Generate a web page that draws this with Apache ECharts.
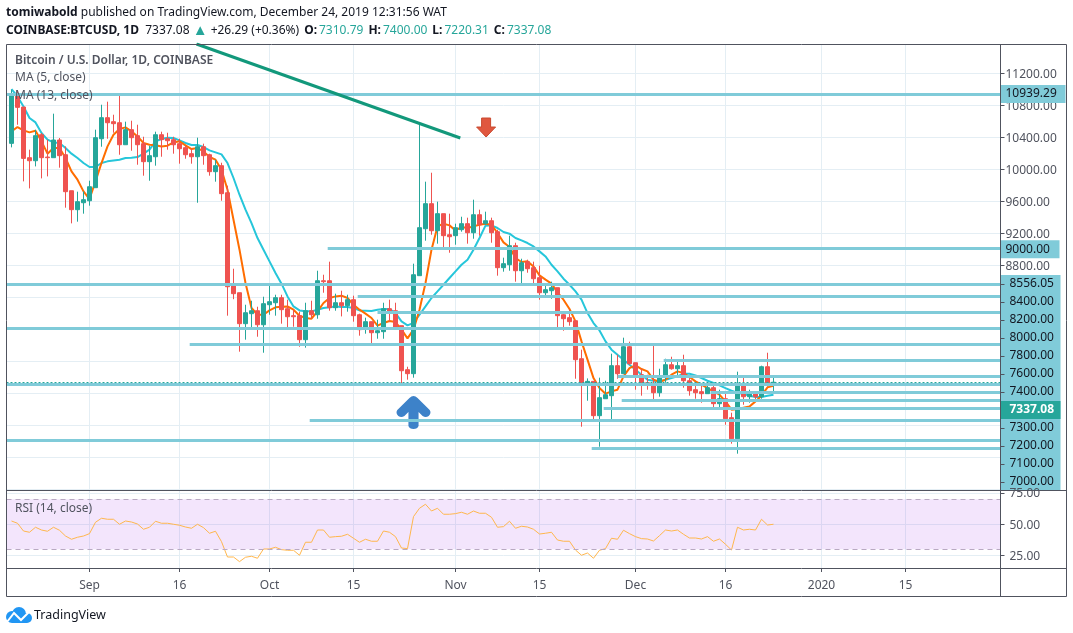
<!DOCTYPE html>
<html>
<head>
<meta charset="utf-8">
<title>BTCUSD</title>
<style>
  html, body { margin: 0; padding: 0; background: #fff; }
  #chart { width: 1073px; height: 633px; }
</style>
<script src="https://cdn.jsdelivr.net/npm/echarts@6/dist/echarts.min.js"></script>
</head>
<body>
<div id="chart"></div>
<script>
// day 0 is 1 Sep 2019, first candle is 19 Aug
const firstDay = -13
const opens = [10323,10940,10777,10144,10106,10431,10152,10144,10365,10181,9731,9494,9581,9606,9769,10381,10644,10594,10581,10306,10494,10419,10319,10094,10156,10431,10381,10369,10319,10269,10194,10156,10281,10181,9969,10044,9706,8544,8456,8069,8194,8231,8056,8306,8331,8394,8256,8169,8169,7869,8231,8181,8606,8606,8269,
  8331,8294,8369,8181,8006,8094,7956,7969,8256,8231,8044,7494,7444,8669,9256,9569,9231,9444,9181,9169,9244,9319,9206,9431,9319,9356,9219,8769,8806,9044,8731,8844,8769,8644,8456,8481,8519,8181,8144,8106,7631,
  7298,7348,6919,7131,7169,7544,7444,7781,7581,7431,7331,7319,7206,7406,7556,7506,7544,7356,7244,7219,7194,7269,7069,7131,6894,6631,7306,7156,7206,7156,7531,7310.79]
const closes = [10940,10773,10135,10106,10419,10144,10144,10365,10169,9719,9494,9594,9619,9781,10394,10644,10581,10569,10306,10494,10394,10306,10094,10169,10431,10369,10356,10306,10256,10181,10156,10281,10169,9969,10044,9694,8531,8444,8069,8206,8231,8056,8319,8344,8394,8244,8156,8156,7869,8231,8181,8606,8594,8269,8331,
  8294,8369,8169,7994,8094,7956,7981,8256,8219,8019,7481,7444,8681,9269,9569,9231,9444,9169,9156,9269,9319,9206,9431,9306,9356,9206,8769,8819,9044,8731,8831,8756,8631,8456,8494,8519,8169,8131,8094,7619,7298,
  7348,6919,7144,7181,7544,7444,7781,7569,7406,7319,7306,7206,7419,7556,7506,7544,7356,7231,7206,7194,7269,7069,7131,6881,6631,7306,7156,7206,7156,7531,7319,7337.08]
const highs = [10994,10990,10777,10244,10494,10452,10369,10694,10390,10285,9731,9719,9723,9856,10494,10806,10844,10681,10944,10594,10606,10556,10406,10294,10469,10469,10456,10406,10381,10294,10256,10394,10319,10194,10119,10081,9794,8756,8456,8306,8356,8281,8406,8556,8431,8431,8369,8244,8219,8331,8356,8731,8681,8844,8444,
  8481,8431,8419,8194,8144,8094,8119,8331,8369,8331,8044,7531,8819,10556,9844,9956,9594,9444,9444,9319,9406,9394,9619,9494,9469,9394,9244,8894,9169,9081,8881,8869,8844,8794,8544,8594,8519,8219,8244,8106,7744,
  7385,7348,7394,7356,7694,7681,7894,7844,7581,7506,7431,7794,7506,7631,7656,7606,7681,7419,7306,7319,7319,7294,7244,7194,6956,7469,7394,7244,7206,7544,7706,7400]
const lows = [10273,10556,9848,9760,10035,9885,9910,10144,10019,9519,9323,9344,9444,9544,9769,10281,10381,10456,10181,10306,10231,10056,9919,9856,10044,10156,10244,10194,10069,10131,10069,9581,10056,9919,9844,9606,8169,8375,7719,7869,8019,7906,7706,8181,8169,8069,8006,8031,7781,7769,8131,8131,8456,8231,8231,
  8160,8219,8094,7919,7944,7819,7881,7881,8094,7994,7306,7369,7394,8669,9106,9181,9069,8994,8956,9056,9219,9069,9131,9169,9306,9081,8669,8719,8731,8594,8556,8706,8556,8369,8406,8381,8019,7981,8044,7381,6781,
  7106,6869,6531,7131,6856,7381,7444,7556,7244,7169,7244,7094,7156,7331,7494,7394,7269,7169,7131,7081,7194,7019,7019,6806,6569,6444,7056,7081,7106,7131,7281,7220.31]
const ma5 = [10473,10527,10485,10460,10481,10348,10194,10265,10265,10140,9973,9869,9723,9627,9848,10077,10285,10431,10502,10523,10473,10410,10327,10306,10298,10285,10294,10335,10348,10298,10252,10265,10223,10152,10119,9994,9744,9369,8994,8577,8265,8181,8181,8235,8273,8281,8285,8244,8169,8140,8131,8223,8327,8390,8410,
  8419,8390,8306,8244,8194,8140,8044,8077,8102,8090,7994,7885,7994,8244,8577,8994,9285,9319,9298,9235,9277,9265,9285,9306,9319,9306,9202,9085,9027,8890,8840,8848,8785,8673,8619,8569,8460,8369,8252,8098,7848,
  7619,7389,7264,7194,7223,7244,7410,7514,7548,7502,7473,7369,7344,7369,7431,7473,7452,7402,7348,7306,7264,7223,7181,7098,6994,7002,7019,7035,7098,7169,7273,7294]
const ma13 = [11002,10910,10785,10640,10585,10452,10369,10335,10327,10265,10194,10140,10077,10027,10027,10077,10098,10110,10119,10140,10144,10152,10194,10244,10348,10377,10394,10390,10360,10327,10302,10302,10277,10235,10210,10185,10077,9890,9681,9494,9327,9139,8994,8848,8702,8569,8410,8285,8235,8223,8223,8244,8265,8273,8285,
  8277,8277,8265,8235,8231,8227,8244,8252,8252,8202,8098,8048,8077,8181,8285,8390,8473,8556,8640,8723,8806,8869,8994,9140,9294,9298,9265,9215,9194,9140,9110,9077,9035,8973,8910,8806,8723,8631,8556,8473,8369,
  8202,8077,7985,7848,7744,7681,7619,7556,7494,7431,7369,7356,7348,7369,7390,7410,7444,7444,7423,7390,7356,7327,7298,7264,7231,7202,7194,7169,7152,7152,7169,7181]
const rsi = [52.6,50.8,44.6,43.6,47.6,45.4,44.4,47.6,45.2,40.6,38,39.6,40.6,42.5,51.6,54.8,54,54,50,52.6,51.8,50.2,46,47.6,52.4,50.8,50.8,50,49.2,47.8,46.8,50,47.3,42.8,44.4,36.1,23.8,23.8,20.1,23.6,24.4,22.8,30.2,30.2,31.6,29.7,29.2,29.2,25.2,35.6,35.6,45.4,45.4,39.6,40.1,40.4,42,38.8,35.6,38,36.4,36.4,44.6,43.6,40.1,31,30.5,56.1,62.8,
  66,60.6,62.8,58,58,58.5,59.6,58,60.6,58.8,58.8,55.6,47.6,48.1,52.4,46.8,48.4,47.8,46,42.2,42.8,43.6,37.4,36.4,36.4,29.4,25.2,27,22.8,29.2,30.5,38.8,38,45.2,42.5,40.1,38.5,38.2,36.6,40.9,45.4,44.6,45.4,42,39,39,38.2,40.1,36.4,38.2,34,29.4,47.6,45.4,46,45.4,54,49.4,50]

// drawn support / resistance levels, startDay null means from the left edge
const levelPrices = [10939.29,9010,8556.05,8411,8211,8011,7811,7611,7411,7311,7211,7111,7011,6861,6611,6511]
const levelStarts = [null,39.7,null,44.7,48,null,16.7,95.7,88,null,103.5,88.7,85.7,36.7,null,83.7]
const trendDays = [17.83,61.8]
const trendPrices = [11565,10390]
const upArrowAt = [54,6959]
const downArrowAt = [66.1,10521]
const lastPrice = 7337.08

const xTickDays = [0,15,30,44,61,75,91,106,122,136]
const xTickLabels = ['Sep','16','Oct','15','Nov','15','Dec','16','2020','15']
const priceTicks = [11200,10800,10400,10000,9600,9200,8800,9000,10939.29]
const taggedPrices = [10939.29,9000]
// these labels were pushed down the scale to stop them overlapping
const stackedLabels = ['8556.05','8400.00','8200.00','8000.00','7800.00','7600.00','7400.00','7337.08','7300.00','7200.00','7100.00','7000.00']
const rsiTicks = [75,50,25]

const font = '"Noto Sans", sans-serif'
const axisColor = '#50535e'
const gridColor = '#e4eef4'
const levelColor = '#80cbd9'
const upColor = '#26a69a'
const downColor = '#ef5350'
// 6px a day, picked so candles land on whole pixels
const xMin = -13.8333
const xMax = 151.8334

let candles = opens.map((o, i) => [firstDay + i, o, closes[i], lows[i], highs[i]])
let withDay = arr => arr.map((v, i) => [firstDay + i, v])

let levelLines = levelPrices.map((p, i) => [
  { coord: [levelStarts[i] === null ? xMin : levelStarts[i], p] },
  { coord: [xMax, p] }
])

let myCharts = echarts.init(document.getElementById('chart'), null, { renderer: 'canvas' })
let options = {
  animation: false,
  backgroundColor: '#fff',
  textStyle: { fontFamily: font },
  grid: [
    { left: 6.5, width: 994, top: 44, height: 445.2 },
    { left: 6.5, width: 994, top: 491, height: 77 },
    { left: 1000.5, width: 60, top: 275, height: 216, show: true, backgroundColor: levelColor, borderWidth: 0 }
  ],
  xAxis: [
    {
      type: 'value', gridIndex: 0, min: xMin, max: xMax,
      axisLine: { show: false, onZero: false }, axisLabel: { show: false },
      axisTick: { show: false, customValues: xTickDays },
      splitLine: { show: true, lineStyle: { color: gridColor } }
    },
    {
      type: 'value', gridIndex: 1, min: xMin, max: xMax,
      axisLine: { show: false, onZero: false },
      axisTick: { show: true, length: 4, customValues: xTickDays, lineStyle: { color: axisColor } },
      axisLabel: {
        customValues: xTickDays, margin: 12, fontSize: 12, fontFamily: font, color: axisColor,
        formatter: v => xTickLabels[xTickDays.indexOf(v)] || '',
        showMinLabel: true, showMaxLabel: true
      },
      splitLine: { show: true, lineStyle: { color: gridColor } }
    },
    { type: 'value', gridIndex: 2, show: false, min: 0, max: 1 }
  ],
  yAxis: [
    {
      type: 'value', gridIndex: 0, min: 6000, max: 11565, interval: 400, position: 'right',
      axisLine: { show: false, onZero: false }, axisTick: { show: false }, axisLabel: { show: false },
      splitLine: { show: true, lineStyle: { color: gridColor } }
    },
    {
      type: 'value', gridIndex: 0, min: 6000, max: 11565, position: 'right',
      axisLine: { show: false, onZero: false },
      axisTick: { show: true, length: 4, customValues: priceTicks, lineStyle: { color: axisColor } },
      splitLine: { show: false },
      axisLabel: {
        customValues: priceTicks, margin: 0, fontFamily: font,
        formatter: v => {
          if (taggedPrices.indexOf(v) >= 0) return '{' + (v > 10000 ? 'wide' : 'tag') + '|' + v.toFixed(2) + '}'
          return '{plain|' + v.toFixed(2) + '}'
        },
        rich: {
          plain: { fontSize: 12, color: axisColor, fontFamily: font, padding: [2, 0, 0, 5] },
          tag: { fontSize: 12, color: '#131722', fontFamily: font, backgroundColor: levelColor, width: 54, height: 18, padding: [0, 0, 0, 5] },
          wide: { fontSize: 12, color: '#131722', fontFamily: font, backgroundColor: levelColor, width: 60, height: 18, padding: [0, 0, 0, 5] }
        }
      }
    },
    {
      type: 'value', gridIndex: 1, min: 15, max: 76.6, position: 'right',
      axisLine: { show: false, onZero: false },
      axisTick: { show: true, length: 4, customValues: rsiTicks, lineStyle: { color: axisColor } },
      axisLabel: {
        customValues: rsiTicks, margin: 0, fontFamily: font,
        formatter: v => '{plain|' + v.toFixed(2) + '}',
        rich: { plain: { fontSize: 12, color: axisColor, fontFamily: font, padding: [2, 0, 0, 9] } }
      },
      splitLine: { show: true, lineStyle: { color: gridColor } }
    },
    {
      type: 'category', gridIndex: 2, inverse: true, data: stackedLabels, position: 'left',
      axisLine: { show: false, onZero: false },
      axisTick: { show: true, inside: true, length: 4, alignWithLabel: true, lineStyle: { color: axisColor } },
      axisLabel: {
        inside: true, margin: 0, interval: 0, fontFamily: font,
        formatter: v => v === '7337.08' ? '{now|' + v + '}' : '{tag|' + v + '}',
        rich: {
          tag: { fontSize: 12, color: '#131722', fontFamily: font, padding: [0, 0, 0, 9] },
          now: { fontSize: 12, fontWeight: 'bold', color: '#fff', fontFamily: font, backgroundColor: upColor, width: 51, height: 18, padding: [0, 0, 0, 9] }
        }
      }
    }
  ],
  series: [
    {
      name: 'arrows', type: 'scatter', xAxisIndex: 0, yAxisIndex: 0, z: 1, silent: true,
      data: [
        {
          value: upArrowAt, symbolSize: [34, 33],
          symbol: 'path://M17 0 Q19 0 21 2 L33 14 Q35 17 32 20 Q29 22 26 20 L22 16 L22 30 Q21 33 17 33 Q13 33 12 30 L12 16 L8 20 Q5 22 2 20 Q-1 17 1 14 L13 2 Q15 0 17 0 Z',
          itemStyle: { color: '#3d82c9', opacity: 1 }
        },
        {
          value: downArrowAt, symbolSize: [19, 19],
          symbol: 'path://M5 0 L14 0 L14 9 L19 9 L9.5 19 L0 9 L5 9 Z',
          itemStyle: { color: '#e0573f', borderColor: '#c9492f', borderWidth: 1, opacity: 1 }
        }
      ]
    },
    {
      name: 'levels', type: 'line', xAxisIndex: 0, yAxisIndex: 0, data: [], z: 2, silent: true,
      markLine: {
        silent: true, symbol: 'none', label: { show: false }, animation: false,
        lineStyle: { color: levelColor, width: 3, type: 'solid' },
        data: levelLines
      }
    },
    {
      name: 'trend', type: 'line', xAxisIndex: 0, yAxisIndex: 0, z: 6, symbol: 'none', silent: true,
      lineStyle: { color: '#12987b', width: 3 },
      data: trendDays.map((d, i) => [d, trendPrices[i]])
    },
    {
      name: 'MA 13', type: 'line', xAxisIndex: 0, yAxisIndex: 0, z: 3, symbol: 'none',
      lineStyle: { color: '#26c6da', width: 2 }, data: withDay(ma13)
    },
    {
      name: 'MA 5', type: 'line', xAxisIndex: 0, yAxisIndex: 0, z: 3, symbol: 'none',
      lineStyle: { color: '#ff6d00', width: 2 }, data: withDay(ma5)
    },
    {
      name: 'BTCUSD', type: 'candlestick', xAxisIndex: 0, yAxisIndex: 0, z: 4, barWidth: 4,
      itemStyle: { color: upColor, color0: downColor, borderColor: upColor, borderColor0: downColor, borderWidth: 1 },
      data: candles,
      markLine: {
        silent: true, symbol: 'none', label: { show: false }, animation: false, precision: 2,
        lineStyle: { color: upColor, width: 1, type: [2, 2] },
        data: [{ yAxis: lastPrice }]
      }
    },
    {
      name: 'RSI', type: 'line', xAxisIndex: 1, yAxisIndex: 2, symbol: 'none', z: 4,
      lineStyle: { color: '#ffb74d', width: 1 },
      data: withDay(rsi),
      markArea: {
        silent: true, animation: false, label: { show: false },
        itemStyle: { color: 'rgba(155,39,230,0.12)' },
        data: [[{ yAxis: 70 }, { yAxis: 30 }]]
      },
      markLine: {
        silent: true, symbol: 'none', label: { show: false }, animation: false,
        lineStyle: { color: '#b9a9c2', width: 1, type: [5, 4] },
        data: [{ yAxis: 70 }, { yAxis: 30 }]
      }
    },
    // empty series so the label grid stays alive
    { type: 'line', xAxisIndex: 2, yAxisIndex: 3, data: [], silent: true }
  ],
  graphic: [
    { type: 'rect', silent: true, z: 50, shape: { x: 6.5, y: 44.5, width: 1060, height: 552 }, style: { fill: null, stroke: axisColor, lineWidth: 1 } },
    { type: 'line', silent: true, z: 50, shape: { x1: 6.5, y1: 490.5, x2: 1066.5, y2: 490.5 }, style: { stroke: axisColor, lineWidth: 1 } },
    { type: 'line', silent: true, z: 50, shape: { x1: 6.5, y1: 568.5, x2: 1066.5, y2: 568.5 }, style: { stroke: axisColor, lineWidth: 1 } },
    { type: 'line', silent: true, z: 50, shape: { x1: 1000.5, y1: 44.5, x2: 1000.5, y2: 596.5 }, style: { stroke: axisColor, lineWidth: 1 } },
    {
      type: 'text', silent: true, z: 60, x: 6, y: 7,
      style: {
        text: '{b|tomiwabold} published on TradingView.com, December 24, 2019 12:31:56 WAT',
        font: '12px ' + font, fill: '#131722', rich: { b: { fontWeight: 'bold', fontSize: 12, fontFamily: font, fill: '#131722' } }
      }
    },
    {
      type: 'text', silent: true, z: 60, x: 6, y: 23,
      style: {
        text: '{b|COINBASE:BTCUSD, 1D}  7337.08 {t|▲} +26.29 (+0.36%){k|O:}{g|7310.79}{k|H:}{g|7400.00}{k|L:}{g|7220.31}{k|C:}{g|7337.08}',
        font: '12px ' + font, fill: '#131722',
        rich: {
          b: { fontWeight: 'bold', fontSize: 12, fontFamily: font, fill: '#131722' },
          k: { fontWeight: 'bold', fontSize: 12, fontFamily: font, fill: '#131722', padding: [0, 2, 0, 5] },
          g: { fontSize: 12, fontFamily: font, fill: '#26a69a' },
          t: { fontSize: 15, fontFamily: font, fill: '#26a69a' }
        }
      }
    },
    { type: 'text', silent: true, z: 60, x: 15, y: 55, style: { text: 'Bitcoin / U.S. Dollar, 1D, COINBASE', font: '600 12px ' + font, fill: '#50535e' } },
    { type: 'text', silent: true, z: 60, x: 15, y: 72, style: { text: 'MA (5, close)', font: '12px ' + font, fill: '#50535e' } },
    { type: 'text', silent: true, z: 60, x: 15, y: 90, style: { text: 'MA (13, close)', font: '12px ' + font, fill: '#50535e' } },
    { type: 'text', silent: true, z: 60, x: 15, y: 503, style: { text: 'RSI (14, close)', font: '12px ' + font, fill: '#50535e' } },
    // TradingView cloud
    { type: 'circle', silent: true, z: 60, shape: { cx: 12, cy: 617, r: 6 }, style: { fill: '#2196f3' } },
    { type: 'circle', silent: true, z: 60, shape: { cx: 19, cy: 614, r: 7 }, style: { fill: '#2196f3' } },
    { type: 'circle', silent: true, z: 60, shape: { cx: 27, cy: 618, r: 5 }, style: { fill: '#2196f3' } },
    { type: 'rect', silent: true, z: 60, shape: { x: 12, y: 616, width: 15, height: 7 }, style: { fill: '#2196f3' } },
    {
      type: 'polyline', silent: true, z: 61,
      shape: { points: [[7, 622], [14, 613], [21, 620], [29, 612]] },
      style: { stroke: '#fff', fill: null, lineWidth: 2 }
    },
    { type: 'text', silent: true, z: 60, x: 34, y: 609, style: { text: 'TradingView', font: '12.5px ' + font, fill: '#131722' } }
  ]
}
myCharts.setOption(options)
</script>
</body>
</html>
